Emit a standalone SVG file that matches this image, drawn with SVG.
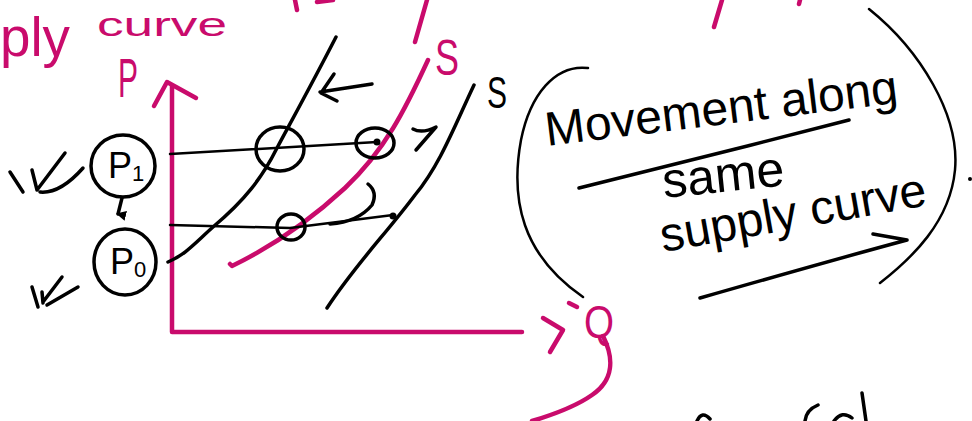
<svg xmlns="http://www.w3.org/2000/svg" width="972" height="421" viewBox="0 0 972 421">
<defs>
<style>
.mg{fill:none;stroke:#C90B6C;stroke-width:4.5;stroke-linecap:round;stroke-linejoin:round}
.bk{fill:none;stroke:#000;stroke-width:3.5;stroke-linecap:round;stroke-linejoin:round}
.bk2{fill:none;stroke:#000;stroke-width:2.5;stroke-linecap:round;stroke-linejoin:round}
.tm{fill:#C90B6C;font-family:"Liberation Sans",Arial,sans-serif}
.tb{fill:#000;font-family:"Liberation Sans",Arial,sans-serif}
</style>
<marker id="dn" markerWidth="10" markerHeight="10" refX="5" refY="8" orient="auto-start-reverse" markerUnits="userSpaceOnUse" viewBox="0 0 10 10">
<path d="M0,0 L10,0 L5,10 Z" fill="#000"/>
</marker>
</defs>
<rect width="972" height="421" fill="#fff"/>

<!-- cropped heading text -->
<g id="heading">
<text class="tm" x="0" y="56" font-size="56" textLength="70" lengthAdjust="spacingAndGlyphs">ply</text>
<text class="tm" x="97" y="36" font-size="34" textLength="130" lengthAdjust="spacingAndGlyphs">curve</text>
<path class="mg" d="M295,0 L297,10 M317,2 L333,0 M427,0 L415,42 M722,0 L714,27 M800,0 L799,4"/>
</g>

<!-- axes -->
<g id="axes">
<path class="mg" d="M172,86 L172,332 L522,332"/>
<path class="mg" d="M154,106 L167,82 L196,98"/>
<path class="mg" d="M543,318 L563,330 L550,352 M569,303 L577,307"/>
<text class="tm" x="118" y="97" font-size="56" textLength="20" lengthAdjust="spacingAndGlyphs">P</text>
<text class="tm" x="584" y="338" font-size="46" textLength="30" lengthAdjust="spacingAndGlyphs">Q</text>
<path class="mg" d="M603,336 C 614,358 614,380 592,395 C 575,407 552,415 532,421"/>
</g>

<!-- supply curves -->
<g id="curves">
<path class="bk" d="M336,37 C 315,78 292,120 277,148 C 262,178 245,200 213,227 C 195,243 185,255 168,262"/>
<path class="mg" d="M428,60 C 405,110 385,150 345,188 C 305,225 265,250 232,266 L230,264"/>
<path class="bk" d="M474,85 C 455,125 440,165 415,195 C 385,235 355,265 327,308"/>
<text class="tm" x="435" y="75" font-size="50" textLength="24" lengthAdjust="spacingAndGlyphs">S</text>
<text class="tb" x="487" y="108" font-size="44" textLength="20" lengthAdjust="spacingAndGlyphs">S</text>
</g>

<!-- price nodes -->
<g id="node-p1">
<ellipse class="bk" cx="123" cy="166" rx="32" ry="31"/>
<text class="tb" x="108" y="178" font-size="36">P<tspan font-size="22" dy="3">1</tspan></text>
<path class="bk" d="M10,172 L23,192 M32,170 L37,190 M37,190 L65,153 M40,192 Q60,194 83,168"/>
</g>
<g id="node-p0">
<ellipse class="bk" cx="125" cy="262" rx="31" ry="33"/>
<text class="tb" x="110" y="274" font-size="36">P<tspan font-size="22" dy="3">0</tspan></text>
<path class="bk" d="M32,287 L38,307 M42,292 L43,303 M43,302 L62,277 M47,305 L78,287"/>
</g>

<!-- connectors -->
<g id="connectors">
<path class="bk" d="M122,198 L118,214" marker-end="url(#dn)"/>
<path class="bk2" d="M170,154 L377,142"/>
<path class="bk2" d="M170,225 L290,228 L393,215"/>
<circle cx="377" cy="142" r="3.5" fill="#000"/>
<circle cx="393" cy="216" r="3.5" fill="#000"/>
<ellipse class="bk" cx="280" cy="149" rx="24" ry="22"/>
<ellipse class="bk" cx="375" cy="143" rx="19" ry="15"/>
<ellipse class="bk" cx="291" cy="227" rx="14" ry="13"/>
<path class="bk" d="M320,92 L372,84 M334,74 L321,93 L337,101"/>
<path class="bk" d="M413,129 Q422,134 436,127 L416,150"/>
<path class="bk" d="M330,224 Q358,222 372,205 Q378,192 368,184"/>
</g>

<!-- annotation -->
<g id="note">
<path class="bk2" d="M588,68 C 555,64 530,95 521,140 C 510,200 522,255 583,297"/>
<path class="bk2" d="M869,9 C 920,50 960,115 955,170 C 950,222 912,258 880,283"/>
<circle cx="970" cy="179" r="2" fill="#000"/>
<text class="tb" x="547" y="146" font-size="48" transform="rotate(-7 547 146)">Movement along</text>
<path class="bk" d="M579,188 C 660,168 760,143 849,120"/>
<text class="tb" x="664" y="198" font-size="50" transform="rotate(-6 664 198)">same</text>
<text class="tb" x="663" y="252" font-size="48" transform="rotate(-10 663 252)">supply curve</text>
<path class="bk" d="M700,298 C 770,278 840,258 907,240 M873,234 L907,240"/>
</g>

<!-- cropped text at the bottom -->
<g id="bottom-fragments">
<path class="bk" d="M697,421 Q702,410 710,419 M818,405 Q806,410 805,421 M834,421 Q842,410 852,418 M862,393 L866,421"/>
</g>
</svg>
